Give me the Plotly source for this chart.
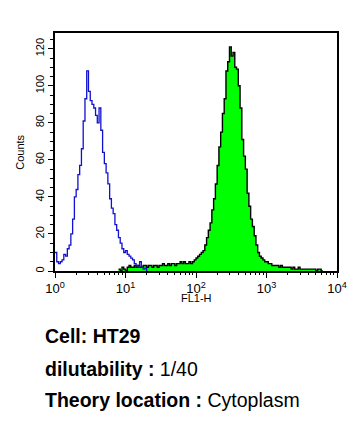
import numpy as np
import plotly.graph_objects as go

# channel grid: log10 bin edges, width 0.025 decades
BIN_W = 0.025

# Blue (control) histogram, bins starting at log10 = 0.0
blue_start = 0.0
blue_counts = [10, 5, 4, 5, 6, 9, 8, 12, 14, 20,
               28, 40, 44, 52, 57, 66, 81, 93, 108, 97,
               92, 90, 88, 84, 80, 88, 76, 64, 58, 53,
               47, 39, 34, 31, 25, 22, 18, 15, 12, 10,
               11, 9, 8, 7, 6, 4, 3, 2, 5, 2,
               1, 1.5, 0]

# Green (HT29 stained) histogram, bins starting at log10 = 0.9
green_start = 0.9
green_counts = [1, 0, 2, 1, 0, 2, 3, 2, 2, 3,
                2, 3, 2, 2, 3, 3, 2, 3, 3, 2,
                3, 3, 2, 3, 3, 4, 3, 3, 4, 3,
                4, 4, 3, 4, 4, 5, 4, 5, 4, 4,
                5, 4, 5, 6, 7, 8, 9, 10, 11, 14,
                18, 22, 26, 33, 39, 47, 57, 67, 75, 85,
                93, 108, 113, 121, 116, 118, 110, 109, 100, 88,
                71, 62, 55, 42, 35, 28, 24, 19, 14, 10,
                8, 7, 6, 5, 5, 4, 4, 3, 3, 3,
                3, 2, 3, 2, 2, 2, 2, 2, 1, 2,
                1, 1, 2, 1, 1, 1, 1, 1, 1, 1,
                1, 1, 0, 1, 1, 0, 0]

x_tickvals = [1, 10, 100, 1000, 10000]
x_ticktext = ["10<sup>0</sup>", "10<sup>1</sup>", "10<sup>2</sup>", "10<sup>3</sup>", "10<sup>4</sup>"]
x_minor_vals = [m * d for d in [1, 10, 100, 1000] for m in range(2, 10)]
y_tickvals = [0, 20, 40, 60, 80, 100, 120]

def edges(start, counts):
    return [10 ** (start + i * BIN_W) for i in range(len(counts))]

fig = go.Figure()
fig.add_trace(go.Scatter(
    x=edges(green_start, green_counts), y=green_counts,
    mode="lines", line=dict(color="black", width=1.4, shape="hv"),
    fill="tozeroy", fillcolor="#00FF00", hoverinfo="skip"))
fig.add_trace(go.Scatter(
    x=edges(blue_start, blue_counts), y=blue_counts,
    mode="lines", line=dict(color="#1010D0", width=1.3, shape="hv"),
    hoverinfo="skip"))
# invisible trace to carry the minor-tick axis
fig.add_trace(go.Scatter(x=[1, 10000], y=[0, 0], xaxis="x2", mode="lines",
                         line=dict(width=0), opacity=0, hoverinfo="skip"))

FONT = "Liberation Sans, Arial, sans-serif"
fig.update_layout(
    width=348, height=416,
    margin=dict(l=47, r=19, t=25, b=153),
    paper_bgcolor="white", plot_bgcolor="white",
    showlegend=False,
    font=dict(family=FONT, color="black"),
    xaxis2=dict(type="log", range=[0, 4], overlaying="x", anchor="y", side="bottom",
                automargin=False, showgrid=False, zeroline=False, showline=False,
                tickmode="array", tickvals=x_minor_vals, ticks="outside", ticklen=3,
                tickcolor="black", showticklabels=False),
)
fig.layout.xaxis.update(
    type="log", range=[0, 4], automargin=False,
    showgrid=False, zeroline=False,
    showline=True, mirror=True, linecolor="black", linewidth=1.5,
    tickmode="array", tickvals=x_tickvals, ticktext=x_ticktext,
    ticks="outside", ticklen=5, tickcolor="black",
    tickfont=dict(size=13, family=FONT),
)
fig.layout.yaxis.update(
    range=[0, 128.5], automargin=False,
    showgrid=False, zeroline=False,
    showline=True, mirror=True, linecolor="black", linewidth=1.5,
    tickmode="array", tickvals=y_tickvals,
    ticks="outside", ticklen=5, tickcolor="black",
    minor=dict(ticks="outside", ticklen=3, tickcolor="black", dtick=5),
    tickangle=-90, tickfont=dict(size=11, family=FONT),
)

anns = [
    dict(text="FL1-H", x=0.5, y=-0.113, xanchor="center", yanchor="middle", font=dict(size=11)),
    dict(text="Counts", x=-0.125, y=0.5, textangle=-90, xanchor="center", yanchor="middle", font=dict(size=11)),
    dict(text="<b>Cell: HT29</b>", x=-0.042, y=-0.272, xanchor="left", yanchor="middle", font=dict(size=19.5)),
    dict(text="<b>dilutability :</b> 1/40", x=-0.042, y=-0.41, xanchor="left", yanchor="middle", font=dict(size=19.5)),
    dict(text="<b>Theory location :</b> Cytoplasm", x=-0.042, y=-0.542, xanchor="left", yanchor="middle", font=dict(size=19.5)),
]
for a in anns:
    a.update(xref="paper", yref="paper", showarrow=False)
    a["font"]["family"] = FONT
    a["font"]["color"] = "black"
    fig.add_annotation(**a)

fig.write_html("out.html")
